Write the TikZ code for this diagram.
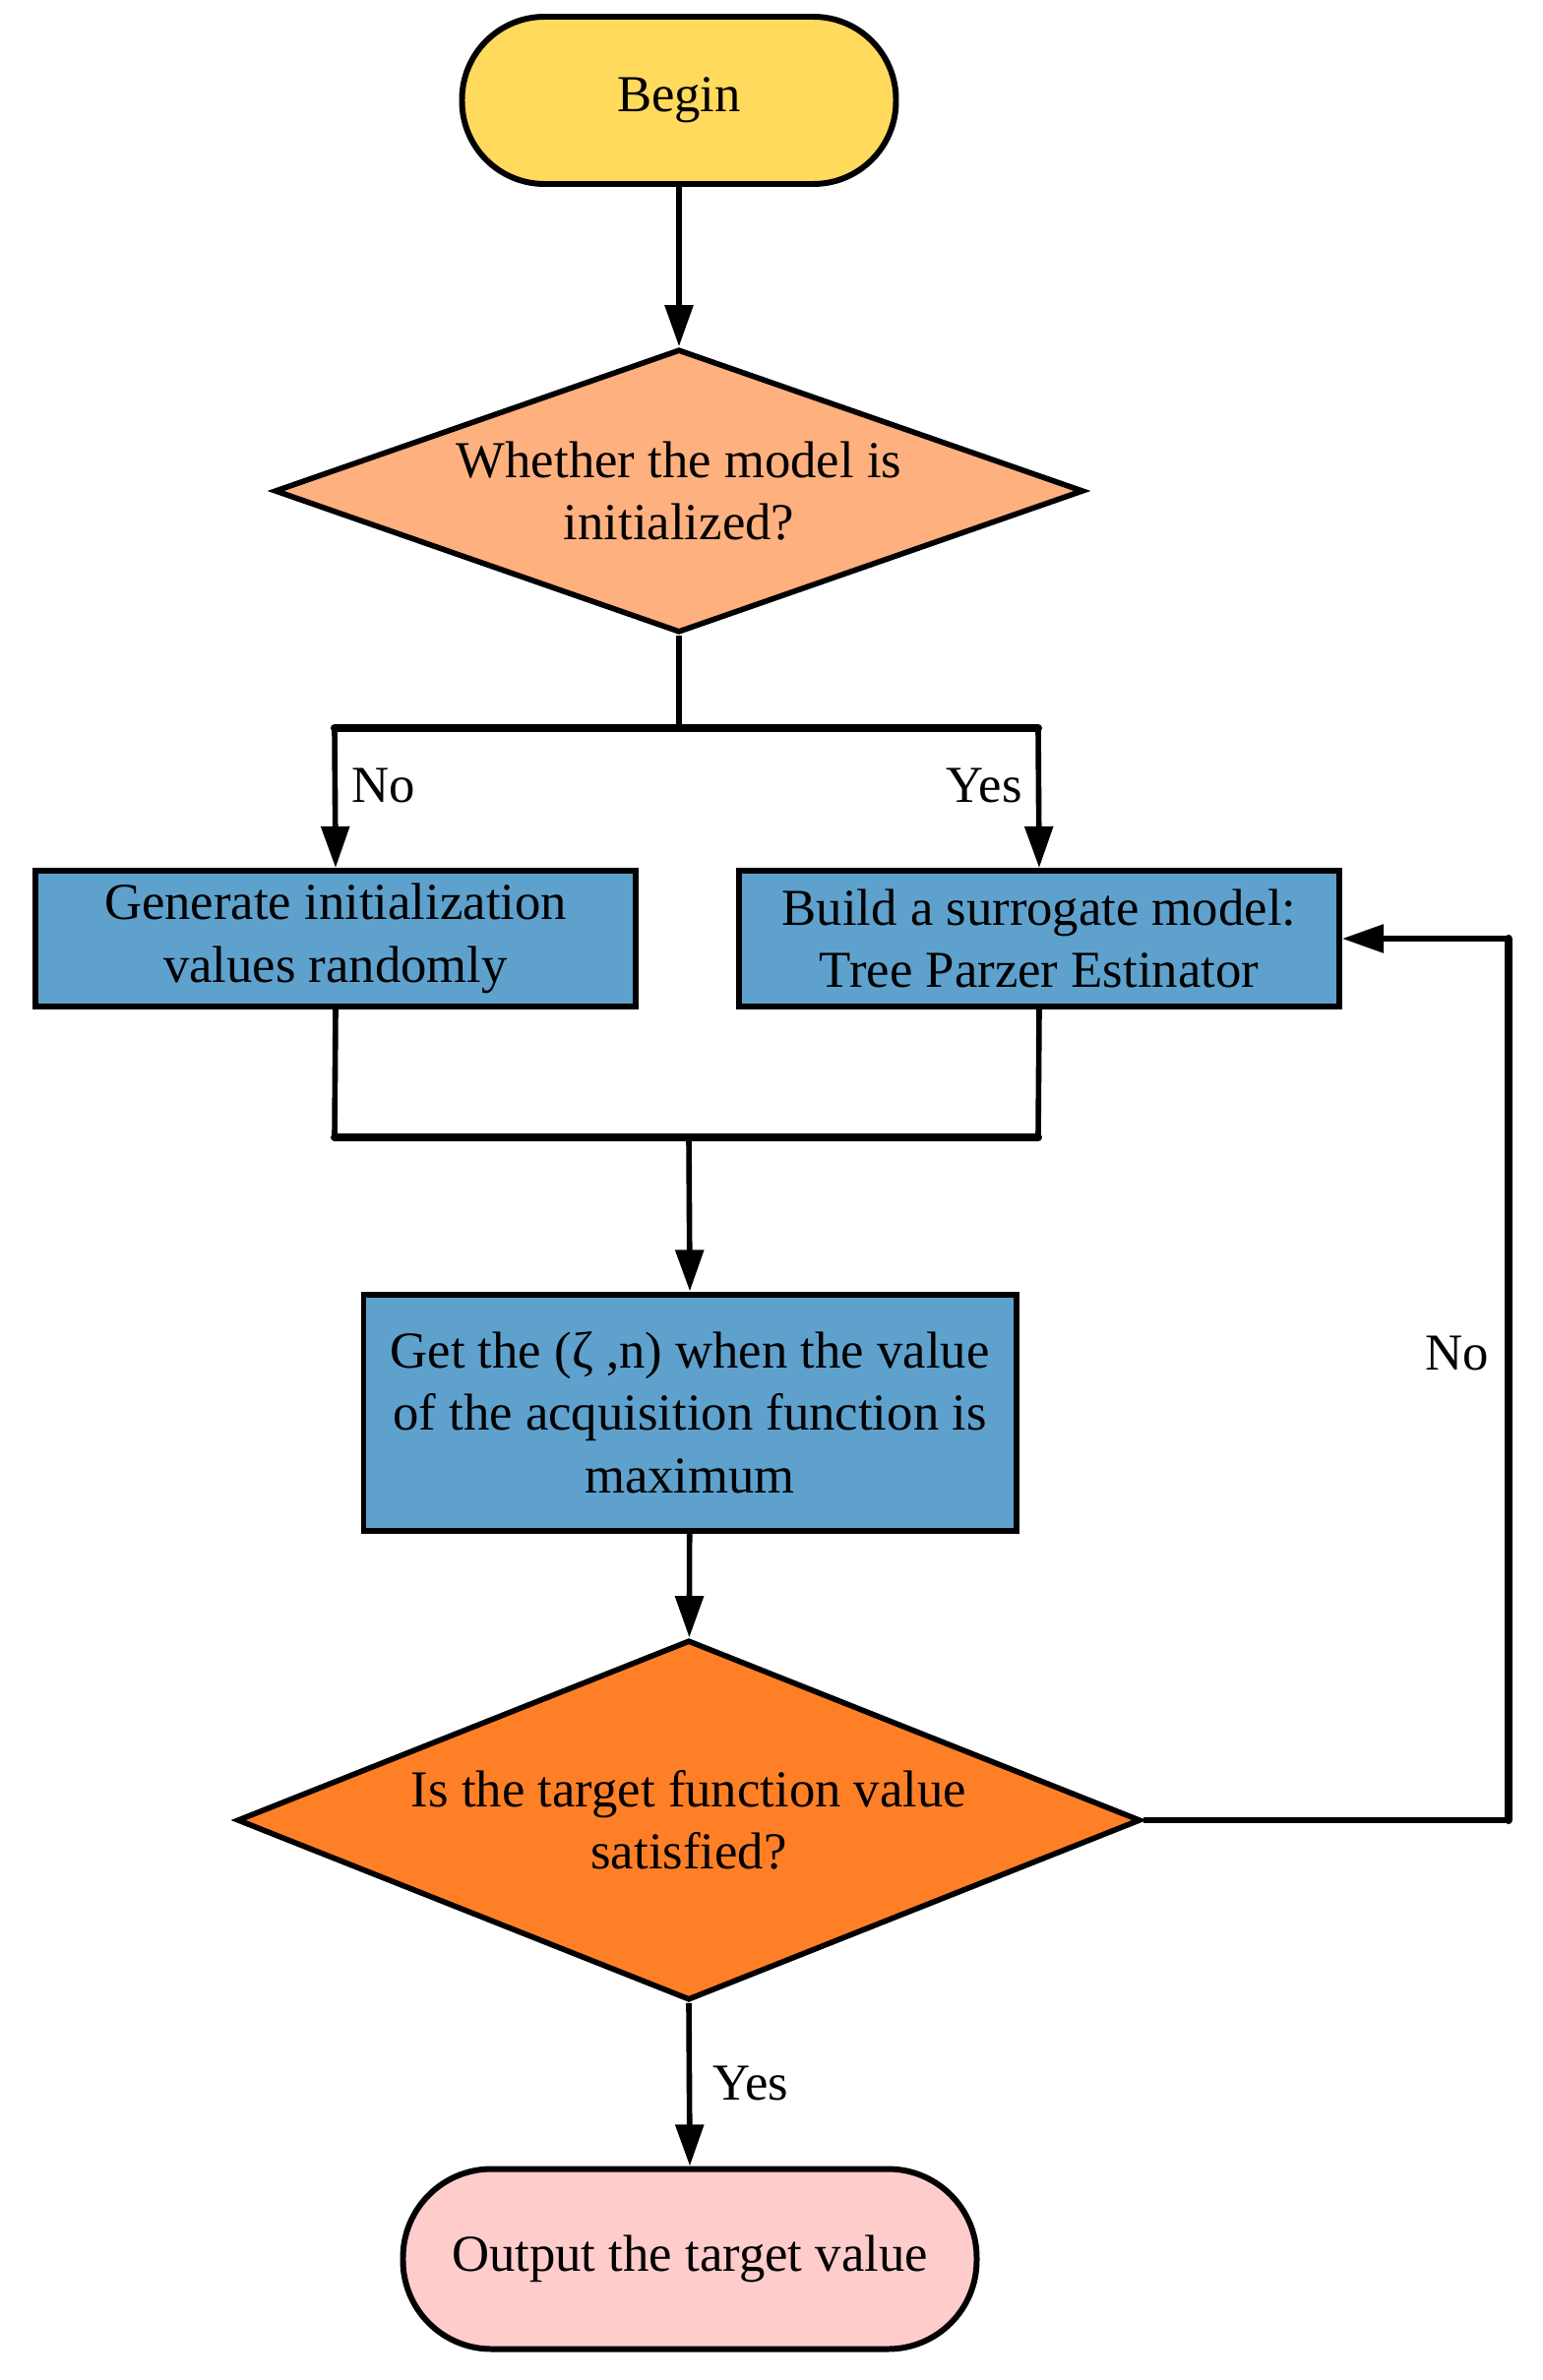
\documentclass[tikz,border=0pt]{standalone}
\usepackage{fontspec}
\setmainfont{Liberation Serif}
\usetikzlibrary{shapes.geometric,arrows.meta}

\definecolor{beginyellow}{HTML}{FFDA5C}
\definecolor{initpeach}{HTML}{FFB07F}
\definecolor{stepblue}{HTML}{5EA1CD}
\definecolor{checkorange}{HTML}{FF7F27}
\definecolor{outpink}{HTML}{FFCCCC}

\begin{document}
\begin{tikzpicture}[
  font=\fontsize{15}{18}\selectfont,
  line width=1.6pt,
  >={Triangle[length=12pt,width=8pt]},
  terminal/.style={draw, line width=1.7pt, align=center, inner sep=0pt},
  decision/.style={draw, diamond, line width=1.6pt, align=center, inner sep=0pt},
  process/.style={draw, rectangle, line width=1.7pt, fill=stepblue, align=center, inner sep=0pt},
  joinline/.style={line width=2.3pt, line cap=round}
]
\useasboundingbox (0,0) rectangle (15.68,-24.19);

% nodes
\node[terminal, fill=beginyellow, rounded corners=0.84cm, minimum width=4.41cm, minimum height=1.70cm] (begin) at (6.90,-1.02) {Begin};
\node[decision, fill=initpeach, shape aspect=2.9, minimum width=8.22cm, minimum height=2.88cm] (init) at (6.90,-4.99) {Whether the model is\\initialized?};
\node[process, minimum width=6.10cm, minimum height=1.38cm] (random) at (3.41,-9.54) {Generate initialization\\values randomly};
\node[process, minimum width=6.10cm, minimum height=1.38cm] (tpe) at (10.56,-9.54) {Build a surrogate model:\\Tree Parzer Estinator};
\node[process, minimum width=6.63cm, minimum height=2.40cm] (acq) at (7.01,-14.355) {Get the (ζ ,n) when the value\\of the acquisition function is\\maximum};
\node[decision, fill=checkorange, shape aspect=2.5, minimum width=9.18cm, minimum height=3.66cm] (check) at (7.00,-18.50) {Is the target function value\\satisfied?};
\node[terminal, fill=outpink, rounded corners=0.90cm, minimum width=5.83cm, minimum height=1.83cm] (out) at (7.01,-22.96) {Output the target value};

% helper points
\coordinate (split) at (6.90,-7.40);
\coordinate (splitL) at (3.40,-7.40);
\coordinate (splitR) at (10.55,-7.40);
\coordinate (joinL) at (3.40,-11.56);
\coordinate (joinR) at (10.55,-11.56);
\coordinate (join) at (7.00,-11.56);
\coordinate (loopB) at (15.33,-18.50);
\coordinate (loopT) at (15.33,-9.54);

% connectors
\draw[->] (begin) -- (init);
\draw (init.south) -- (split);
\draw[joinline] (splitL) -- (splitR);
\draw[->] (splitL) -- node[pos=0.41, anchor=west, inner sep=4pt] {No} (random.north);
\draw[->] (splitR) -- node[pos=0.41, anchor=east, inner sep=4pt] {Yes} (tpe.north);
\draw (random.south) -- (joinL);
\draw (tpe.south) -- (joinR);
\draw[joinline] (joinL) -- (joinR);
\draw[->] (join) -- (acq.north);
\draw[->] (acq) -- (check);
\draw[->] (check.east) -- (loopB) -- node[pos=0.53, anchor=east, inner sep=5pt] {No} (loopT) -- (tpe.east);
\draw[joinline] (loopB) -- (loopT);
\draw[->] (check.south) -- node[pos=0.49, anchor=west, inner sep=6pt] {Yes} (out.north);
\end{tikzpicture}
\end{document}
